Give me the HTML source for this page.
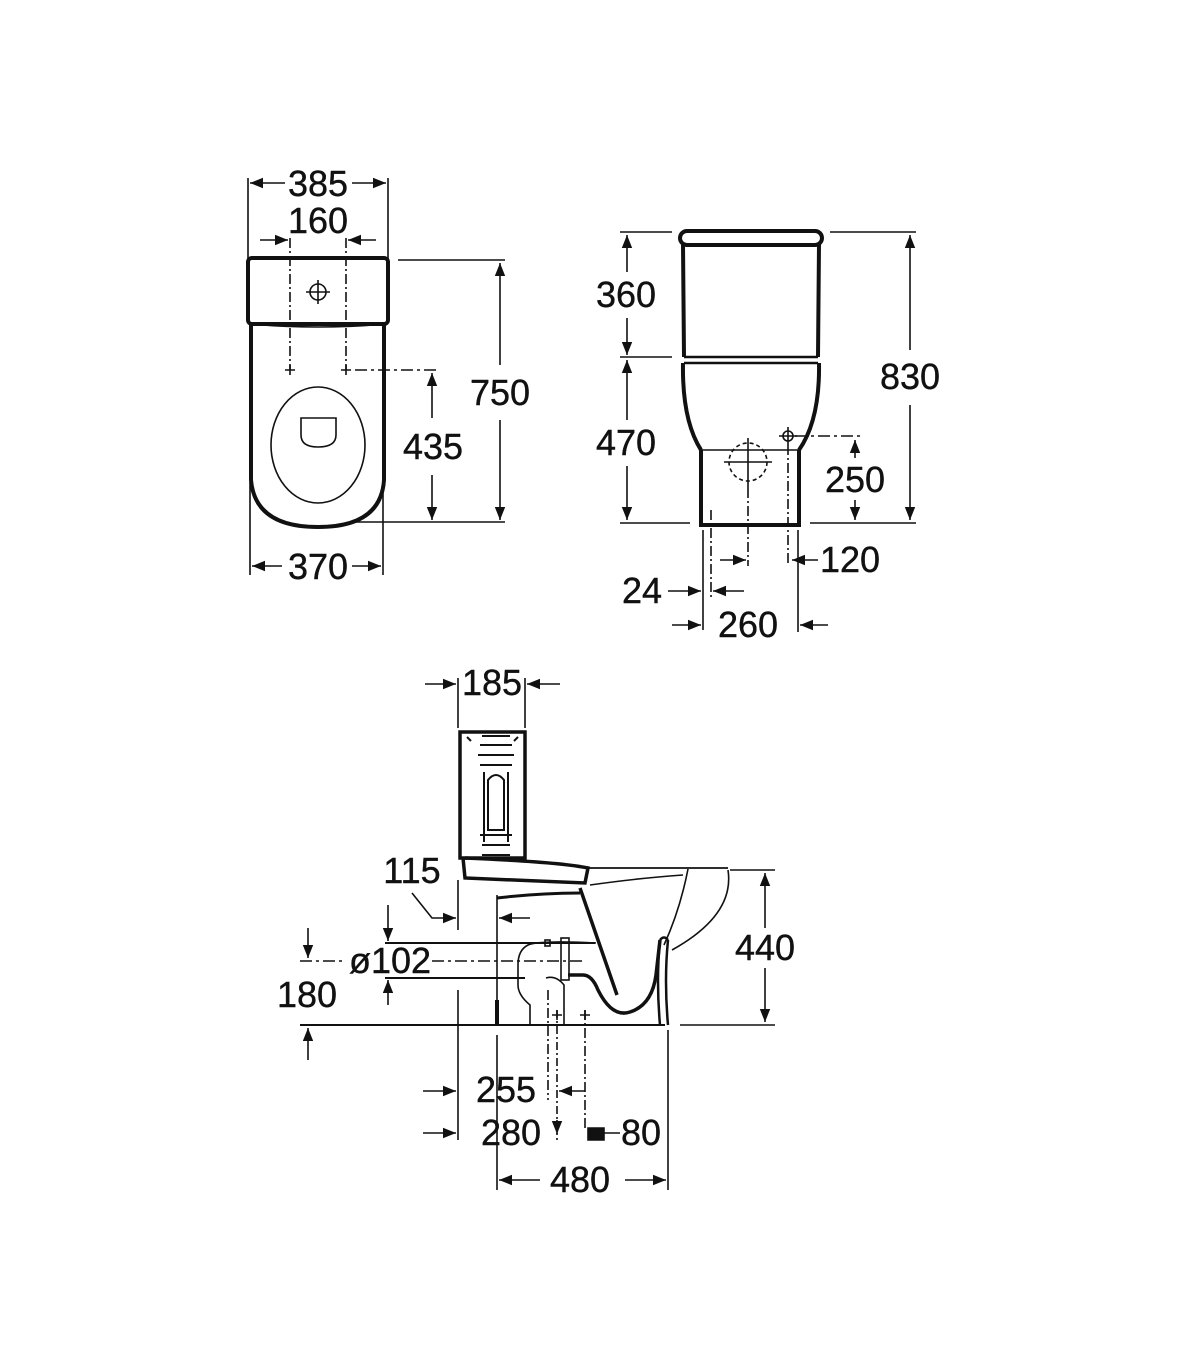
<!DOCTYPE html>
<html><head><meta charset="utf-8"><style>
html,body{margin:0;padding:0;background:#fff;}
svg{display:block;}
text{font-family:"Liberation Sans",Arial,sans-serif;font-size:36px;fill:#111;stroke:#111;stroke-width:0.4;text-anchor:middle;}
</style></head><body>
<svg width="1200" height="1372" viewBox="0 0 1200 1372" xmlns="http://www.w3.org/2000/svg">
<defs>
<marker id="a" viewBox="0 0 10 10" refX="10" refY="5" markerWidth="13" markerHeight="13" markerUnits="userSpaceOnUse" orient="auto-start-reverse"><path d="M0,1 L10,5 L0,9 z" fill="#111"/></marker>
</defs>
<g stroke="#111" fill="none" stroke-width="1.6">
<line x1="248" y1="178" x2="248" y2="268"/>
<line x1="388" y1="178" x2="388" y2="268"/>
<line x1="250" y1="183" x2="285" y2="183" marker-start="url(#a)"/>
<line x1="352" y1="183" x2="386" y2="183" marker-end="url(#a)"/>
<line x1="260" y1="240" x2="288" y2="240" marker-end="url(#a)"/>
<line x1="376" y1="240" x2="348" y2="240" marker-end="url(#a)"/>
<line x1="290" y1="238" x2="290" y2="370" stroke-dasharray="10,3,2,3"/>
<line x1="346" y1="238" x2="346" y2="370" stroke-dasharray="10,3,2,3"/>
<path d="M285,370h10M290,365v10M341,370h10M346,365v10"/>
<line x1="355" y1="370" x2="438" y2="370" stroke-dasharray="12,4,3,4"/>
<rect x="248" y="258" width="140" height="66" rx="4" stroke-width="4"/>
<path d="M250,324 Q318,330 386,324" stroke-width="1.6"/>
<path d="M251,324 V480 Q255,527 318,527 Q381,527 384,480 V324" stroke-width="4"/>
<circle cx="318" cy="292" r="8"/><path d="M306,292h24M318,280v24"/>
<ellipse cx="318" cy="445" rx="47" ry="58"/>
<path d="M301,418 H336 V435 Q336,447 318,447 Q301,447 301,435 Z"/>
<line x1="398" y1="260" x2="505" y2="260"/>
<line x1="355" y1="522" x2="505" y2="522"/>
<line x1="500" y1="263" x2="500" y2="365" marker-start="url(#a)"/>
<line x1="500" y1="420" x2="500" y2="520" marker-end="url(#a)"/>
<line x1="432" y1="373" x2="432" y2="418" marker-start="url(#a)"/>
<line x1="432" y1="475" x2="432" y2="520" marker-end="url(#a)"/>
<line x1="250" y1="482" x2="250" y2="575"/>
<line x1="383" y1="482" x2="383" y2="575"/>
<line x1="252" y1="566" x2="282" y2="566" marker-start="url(#a)"/>
<line x1="352" y1="566" x2="381" y2="566" marker-end="url(#a)"/>

<rect x="680" y="231" width="142" height="14" rx="7" stroke-width="4"/>
<line x1="684" y1="245" x2="818" y2="245"/>
<path d="M683,244 L684,357 M819,244 L818,357" stroke-width="4"/>
<line x1="684" y1="357" x2="818" y2="357" stroke-width="2.5"/>
<line x1="684" y1="363" x2="818" y2="363" stroke-width="2.5"/>
<path d="M683,363 Q682,420 701,450 M819,363 Q820,420 799,450" stroke-width="4"/>
<path d="M701,450 V525 H799 V450" stroke-width="4"/>
<line x1="701" y1="450" x2="799" y2="450"/>
<circle cx="748" cy="462" r="19" stroke-dasharray="4,3"/>
<path d="M724,462h48M748,438v50"/>
<line x1="748" y1="488" x2="748" y2="566" stroke-dasharray="10,3,2,3"/>
<circle cx="788" cy="436" r="5"/><path d="M779,436h18M788,427v18"/>
<line x1="788" y1="445" x2="788" y2="566" stroke-dasharray="10,3,2,3"/>
<line x1="795" y1="436" x2="860" y2="436" stroke-dasharray="12,4,3,4"/>
<line x1="711" y1="510" x2="711" y2="600" stroke-dasharray="10,3,2,3"/>
<line x1="620" y1="232" x2="672" y2="232"/>
<line x1="620" y1="357" x2="672" y2="357"/>
<line x1="620" y1="523" x2="690" y2="523"/>
<line x1="830" y1="232" x2="916" y2="232"/>
<line x1="810" y1="523" x2="916" y2="523"/>
<line x1="627" y1="235" x2="627" y2="272" marker-start="url(#a)"/>
<line x1="627" y1="318" x2="627" y2="355" marker-end="url(#a)"/>
<line x1="627" y1="360" x2="627" y2="420" marker-start="url(#a)"/>
<line x1="627" y1="466" x2="627" y2="520" marker-end="url(#a)"/>
<line x1="910" y1="235" x2="910" y2="350" marker-start="url(#a)"/>
<line x1="910" y1="405" x2="910" y2="520" marker-end="url(#a)"/>
<line x1="855" y1="440" x2="855" y2="458" marker-start="url(#a)"/>
<line x1="855" y1="500" x2="855" y2="520" marker-end="url(#a)"/>
<line x1="703" y1="530" x2="703" y2="630"/>
<line x1="798" y1="530" x2="798" y2="632"/>
<line x1="720" y1="560" x2="746" y2="560" marker-end="url(#a)"/>
<line x1="818" y1="560" x2="792" y2="560" marker-end="url(#a)"/>
<line x1="668" y1="591" x2="701" y2="591" marker-end="url(#a)"/>
<line x1="744" y1="591" x2="713" y2="591" marker-end="url(#a)"/>
<line x1="672" y1="625" x2="701" y2="625" marker-end="url(#a)"/>
<line x1="828" y1="625" x2="800" y2="625" marker-end="url(#a)"/>

<line x1="458" y1="678" x2="458" y2="728"/>
<line x1="525" y1="678" x2="525" y2="728"/>
<line x1="425" y1="684" x2="456" y2="684" marker-end="url(#a)"/>
<line x1="560" y1="684" x2="527" y2="684" marker-end="url(#a)"/>
<rect x="460" y="732" width="65" height="126" stroke-width="3.5"/>
<path d="M467,737l4,4M518,737l-4,4" stroke-width="2"/>
<path d="M482,736 h28 M480,745 h32 M478,755 h36 M480,765 h32 M484,772 v70 M508,772 v70 M488,780 q8,-10 16,0 v50 h-16z M480,835 h32 M482,845 h28 M482,855 h28" stroke-width="2"/>
<path d="M463,858 L465,878 L585,883 L588,868 Q560,862 465,858" stroke-width="3.5"/>
<path d="M497,898 Q540,893 580,893" stroke-width="3"/>
<path d="M588,868 H728" stroke-width="1.8"/>
<path d="M590,885 Q640,878 683,875" stroke-width="1.6"/>
<path d="M688,869 Q680,910 664,945" stroke-width="1.6"/>
<path d="M728,870 Q735,915 672,950" stroke-width="1.6"/>
<path d="M580,888 L617,995" stroke-width="3.5"/>
<path d="M568,975 H583 Q592,975 598,990 Q612,1018 630,1012 Q652,1005 656,975 L660,940" stroke-width="3.5"/>
<path d="M660,940 Q656,980 660,1025 M668,940 Q664,980 668,1025 M660,940 Q664,935 668,940" stroke-width="2.5"/>
<line x1="385" y1="943" x2="595" y2="943" stroke-width="2"/>
<line x1="385" y1="978" x2="525" y2="978" stroke-width="2"/>
<path d="M596,943 Q540,940 528,945 Q518,950 518,965 V985 Q518,995 530,1005 V1025" stroke-width="1.6"/>
<path d="M546,978 Q556,975 564,985 V1025" stroke-width="1.6"/>
<rect x="561" y="938" width="8" height="42"/>
<rect x="545" y="940" width="5" height="6"/>
<line x1="300" y1="961" x2="345" y2="961" stroke-dasharray="12,4,3,4"/>
<line x1="432" y1="961" x2="585" y2="961" stroke-dasharray="12,4,3,4"/>
<line x1="458" y1="880" x2="458" y2="930"/>
<line x1="458" y1="990" x2="458" y2="1140"/>
<line x1="497" y1="895" x2="497" y2="1025"/>
<line x1="497" y1="1000" x2="497" y2="1025" stroke-width="4"/>
<line x1="497" y1="1035" x2="497" y2="1190"/>
<line x1="668" y1="1030" x2="668" y2="1190"/>
<line x1="548" y1="990" x2="548" y2="1100" stroke-dasharray="10,3,2,3"/>
<line x1="557" y1="1010" x2="557" y2="1140" stroke-dasharray="8,3,2,3"/>
<line x1="585" y1="1010" x2="585" y2="1130" stroke-dasharray="10,3,2,3"/>
<path d="M552,1015h10M557,1010v10M580,1015h10M585,1010v10"/>
<line x1="300" y1="1025" x2="665" y2="1025" stroke-width="2"/>
<line x1="680" y1="1025" x2="775" y2="1025"/>
<line x1="730" y1="870" x2="775" y2="870"/>
<line x1="765" y1="873" x2="765" y2="928" marker-start="url(#a)"/>
<line x1="765" y1="968" x2="765" y2="1022" marker-end="url(#a)"/>
<path d="M412,893 L432,918 H456" marker-end="url(#a)"/>
<line x1="530" y1="918" x2="499" y2="918" marker-end="url(#a)"/>
<line x1="388" y1="905" x2="388" y2="941" marker-end="url(#a)"/>
<line x1="388" y1="1005" x2="388" y2="980" marker-end="url(#a)"/>
<line x1="308" y1="928" x2="308" y2="958" marker-end="url(#a)"/>
<line x1="308" y1="1060" x2="308" y2="1028" marker-end="url(#a)"/>
<line x1="423" y1="1091" x2="456" y2="1091" marker-end="url(#a)"/>
<line x1="423" y1="1133" x2="456" y2="1133" marker-end="url(#a)"/>
<line x1="585" y1="1091" x2="559" y2="1091" marker-end="url(#a)"/>
<path d="M557,1120 v14" marker-end="url(#a)"/>
<path d="M588,1128 h16 v12 h-16z" fill="#111"/>
<line x1="620" y1="1133" x2="590" y2="1133" marker-end="url(#a)"/>
<line x1="499" y1="1180" x2="540" y2="1180" marker-start="url(#a)"/>
<line x1="625" y1="1180" x2="666" y2="1180" marker-end="url(#a)"/>
</g>
<text x="318" y="196">385</text>
<text x="318" y="233">160</text>
<text x="500" y="405">750</text>
<text x="433" y="459">435</text>
<text x="318" y="579">370</text>
<text x="626" y="307">360</text>
<text x="626" y="455">470</text>
<text x="910" y="389">830</text>
<text x="855" y="492">250</text>
<text x="850" y="572">120</text>
<text x="642" y="603">24</text>
<text x="748" y="637">260</text>
<text x="492" y="695">185</text>
<text x="412" y="883">115</text>
<text x="390" y="973">ø102</text>
<text x="307" y="1007">180</text>
<text x="765" y="960">440</text>
<text x="506" y="1102">255</text>
<text x="511" y="1145">280</text>
<text x="641" y="1145">80</text>
<text x="580" y="1192">480</text>
</svg>
</body></html>
